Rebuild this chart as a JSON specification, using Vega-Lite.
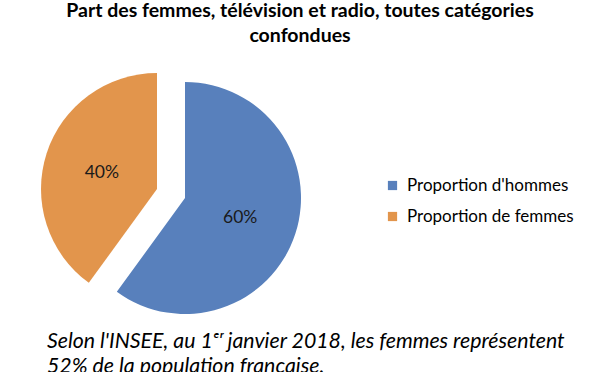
{
  "$schema": "https://vega.github.io/schema/vega-lite/v6.json",
  "background": "white",
  "padding": 0,
  "autosize": {"type": "pad"},
  "config": {"view": {"stroke": null}, "concat": {"spacing": 0}},
  "title": {
    "text": ["Part des femmes, télévision et radio, toutes catégories", "confondues"],
    "font": "Lato",
    "fontSize": 19.5,
    "fontWeight": "bold",
    "color": "#000000",
    "anchor": "middle",
    "frame": "group",
    "lineHeight": 25,
    "dx": 115,
    "offset": 25
  },
  "datasets": {
    "parts": [
      {"categorie": "Proportion d'hommes", "part": 60, "etiquette": "60%"},
      {"categorie": "Proportion de femmes", "part": 40, "etiquette": "40%"}
    ]
  },
  "vconcat": [
    {
      "width": 370,
      "height": 254,
      "title": {
        "text": ["Selon l'INSEE, au 1ᵉʳ janvier 2018, les femmes représentent", "52% de la population française."],
        "orient": "bottom",
        "anchor": "start",
        "frame": "group",
        "font": "Lato",
        "fontSize": 21.3,
        "fontStyle": "italic",
        "fontWeight": "normal",
        "color": "#000000",
        "lineHeight": 25,
        "dx": 47,
        "offset": 6
      },
      "data": {"name": "parts"},
      "encoding": {
        "theta": {"field": "part", "type": "quantitative", "stack": true},
        "order": {"field": "part", "type": "quantitative", "sort": "descending"},
        "color": {
          "field": "categorie",
          "type": "nominal",
          "scale": {"domain": ["Proportion d'hommes", "Proportion de femmes"], "range": ["#5880BC", "#E2954C"]},
          "legend": {
            "title": null,
            "orient": "none",
            "legendX": 384,
            "legendY": 106,
            "symbolType": "square",
            "symbolSize": 85,
            "symbolStrokeWidth": 0,
            "labelFont": "Lato",
            "labelFontSize": 17,
            "labelLimit": 300,
            "labelColor": "#000000",
            "rowPadding": 13,
            "labelOffset": 6
          }
        }
      },
      "layer": [
        {
          "mark": {"type": "arc", "outerRadius": 116},
          "encoding": {
            "opacity": {"condition": {"test": "datum.categorie === \"Proportion d'hommes\"", "value": 1}, "value": 0}
          }
        },
        {
          "mark": {"type": "arc", "outerRadius": 116, "xOffset": -28, "yOffset": -9},
          "encoding": {
            "opacity": {"condition": {"test": "datum.categorie === \"Proportion de femmes\"", "value": 1}, "value": 0}
          }
        },
        {
          "mark": {"type": "text", "radius": 58, "font": "Lato", "fontSize": 17.5, "dy": 2},
          "encoding": {
            "text": {"field": "etiquette"},
            "color": {"value": "#1a1a1a"},
            "opacity": {"condition": {"test": "datum.categorie === \"Proportion d'hommes\"", "value": 1}, "value": 0}
          }
        },
        {
          "mark": {"type": "text", "radius": 58, "font": "Lato", "fontSize": 17.5, "dy": 2, "xOffset": -28, "yOffset": -9},
          "encoding": {
            "text": {"field": "etiquette"},
            "color": {"value": "#1a1a1a"},
            "opacity": {"condition": {"test": "datum.categorie === \"Proportion de femmes\"", "value": 1}, "value": 0}
          }
        }
      ]
    }
  ]
}
